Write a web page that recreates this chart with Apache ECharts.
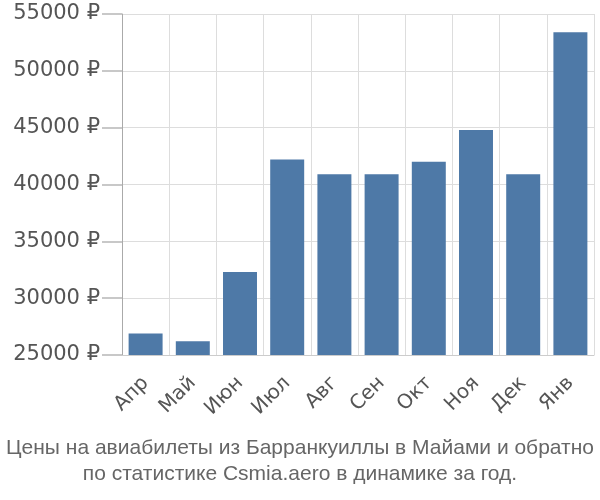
<!DOCTYPE html>
<html><head><meta charset="utf-8">
<script src="https://cdn.jsdelivr.net/npm/echarts@6/dist/echarts.min.js"></script>
<style>html,body{margin:0;padding:0;background:#fff}#c{width:600px;height:500px}</style>
</head><body><div id="c"></div>
<script>
const categories = ['Апр','Май','Июн','Июл','Авг','Сен','Окт','Ноя','Дек','Янв'];
const prices = [26900, 26200, 32300, 42200, 40900, 40900, 42000, 44800, 40900, 53400];
const yTicks = [25000, 55000, 5000]; // min, max, step
const titleLines = ['Цены на авиабилеты из Барранкуиллы в Майами и обратно', 'по статистике Csmia.aero в динамике за год.'];

const chart = echarts.init(document.getElementById('c'));
chart.setOption({
  animation: false,
  title: {
    text: titleLines.join('\n'),
    left: 'center', bottom: 8,
    textStyle: {fontFamily: 'Liberation Sans, sans-serif', fontWeight: 'normal', fontSize: 21, color: '#666', lineHeight: 26}
  },
  grid: {left: 122, right: 6, top: 14, bottom: 145},
  xAxis: {
    type: 'category', data: categories,
    axisLine: {lineStyle: {color: '#ccc', width: 1}},
    axisTick: {length: 19, lineStyle: {color: '#c8c8c8', width: 2}},
    splitLine: {show: true, lineStyle: {color: '#ddd'}},
    axisLabel: {rotate: 45, fontSize: 20, color: '#555', fontFamily: 'DejaVu Sans, sans-serif', margin: 25}
  },
  yAxis: {
    type: 'value', min: yTicks[0], max: yTicks[1], interval: yTicks[2],
    axisLine: {show: true, lineStyle: {color: '#aaa'}},
    axisTick: {show: true, length: 20, lineStyle: {color: '#c8c8c8', width: 2}},
    splitLine: {lineStyle: {color: '#ddd'}},
    axisLabel: {formatter: v => v + ' ₽', fontSize: 21, color: '#555', fontFamily: 'DejaVu Sans, sans-serif', margin: 22}
  },
  series: [{
    type: 'bar', data: prices, barCategoryGap: '28%',
    itemStyle: {color: '#4e79a7'}
  }]
});
</script></body></html>
